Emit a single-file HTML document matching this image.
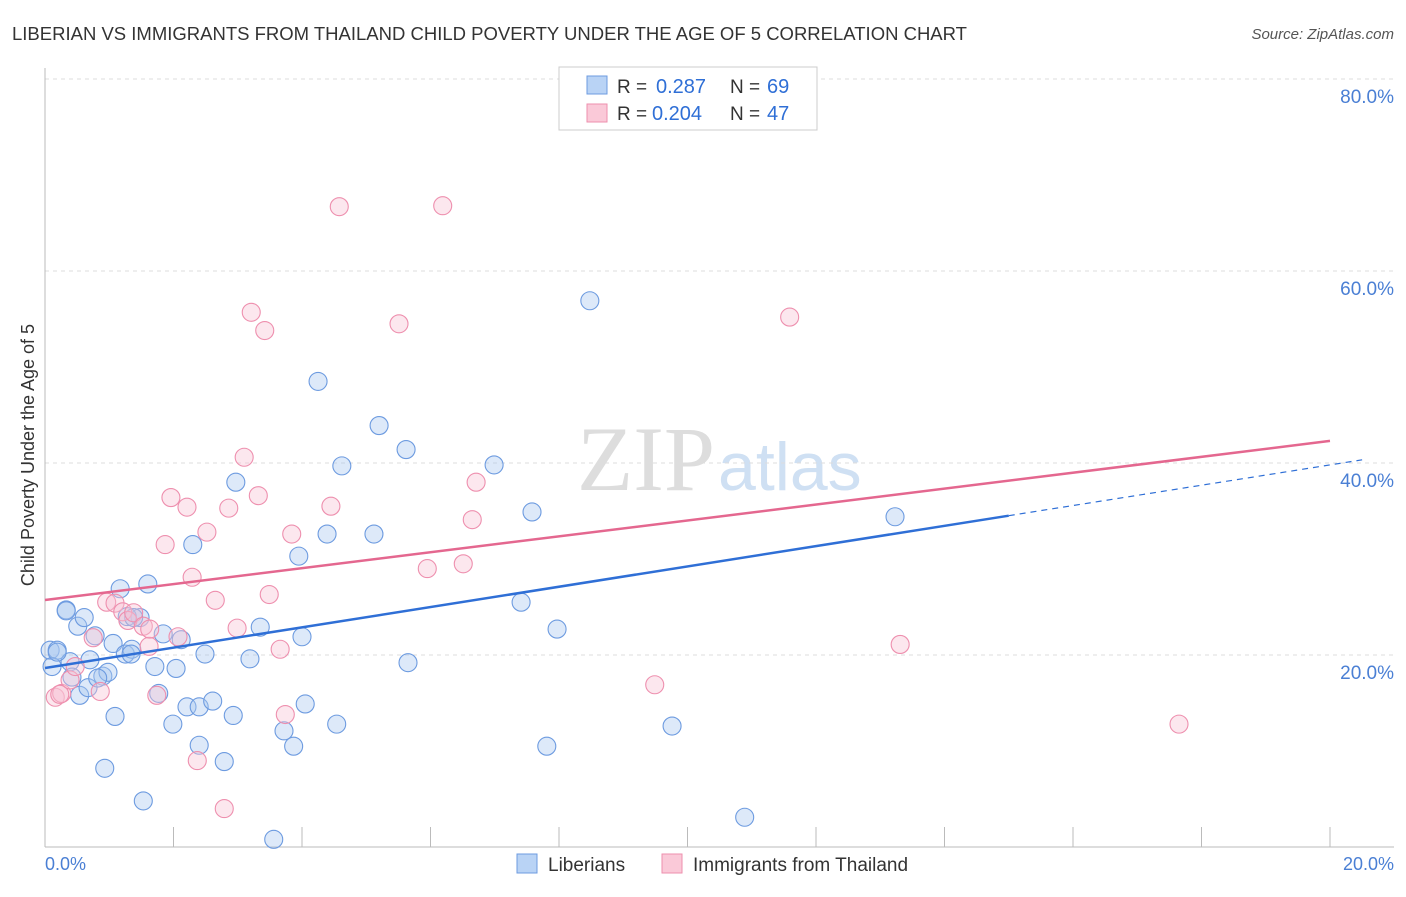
<!DOCTYPE html>
<html><head><meta charset="utf-8"><style>
body{margin:0;background:#fff;font-family:"Liberation Sans",sans-serif;}
</style></head><body>
<svg id="c" width="1406" height="892" xmlns="http://www.w3.org/2000/svg">
<text x="12" y="40" font-size="18.5" fill="#333">LIBERIAN VS IMMIGRANTS FROM THAILAND CHILD POVERTY UNDER THE AGE OF 5 CORRELATION CHART</text>
<text x="1394" y="39" font-size="15" fill="#555" font-style="italic" text-anchor="end">Source: ZipAtlas.com</text>
<text x="715" y="490" font-size="92" fill="#ddd" font-family="Liberation Serif,serif" text-anchor="end">ZIP</text>
<text x="718" y="490" font-size="68" fill="#cfe0f3">atlas</text>
<g id="grid"></g><g id="pts"></g><g id="lines"></g>
<text x="34" y="455" font-size="18" fill="#333" transform="rotate(-90 34 455)" text-anchor="middle">Child Poverty Under the Age of 5</text>
<text x="45" y="870" font-size="18" fill="#4a7fd4">0.0%</text>
<text x="1394" y="870" font-size="18" fill="#4a7fd4" text-anchor="end">20.0%</text>
<g>
<rect x="559" y="67" width="258" height="63" fill="#fff" stroke="#ccc"/>
<rect x="587" y="76" width="20" height="18" fill="#b9d3f5" stroke="#6d9be0"/>
<rect x="587" y="104" width="20" height="18" fill="#fac9d8" stroke="#ee8fae"/>
<text x="617" y="93" font-size="19" fill="#333">R =</text>
<text x="656" y="93" font-size="20" fill="#2f6fd6">0.287</text>
<text x="730" y="93" font-size="19" fill="#333">N =</text>
<text x="767" y="93" font-size="20" fill="#2f6fd6">69</text>
<text x="617" y="120" font-size="19" fill="#333">R =</text>
<text x="652" y="120" font-size="20" fill="#2f6fd6">0.204</text>
<text x="730" y="120" font-size="19" fill="#333">N =</text>
<text x="767" y="120" font-size="20" fill="#2f6fd6">47</text>
</g>
<g>
<rect x="517" y="854" width="20" height="19" fill="#b9d3f5" stroke="#6d9be0"/>
<text x="548" y="871" font-size="19" fill="#333">Liberians</text>
<rect x="662" y="854" width="20" height="19" fill="#fac9d8" stroke="#ee8fae"/>
<text x="693" y="871" font-size="19" fill="#333">Immigrants from Thailand</text>
</g>
</svg>
<script>
const blueX=[0.08,0.19,0.11,0.33,0.51,0.61,0.39,0.70,0.78,0.42,0.54,0.67,0.90,0.98,1.06,0.82,1.17,1.09,0.93,1.60,1.48,1.28,1.25,1.35,1.34,1.84,1.71,2.04,2.12,1.77,1.99,2.21,2.40,2.61,2.49,2.30,2.40,2.79,2.93,1.53,2.97,3.19,3.35,3.72,3.87,4.00,4.05,3.95,4.25,4.39,4.54,4.62,5.12,5.20,5.62,5.65,6.99,7.41,7.58,7.81,7.97,8.48,9.76,10.89,13.23,3.56,0.33,0.19,1.38];
const blueY=[20.5,20.5,18.8,24.7,23.0,23.9,19.3,19.5,22.0,17.7,15.8,16.6,17.8,18.2,21.2,17.6,26.9,13.6,8.2,27.4,23.9,24.0,20.1,20.6,20.1,22.2,18.8,18.6,21.6,16.0,12.8,14.6,14.6,15.2,20.1,31.5,10.6,8.9,13.7,4.8,38.0,19.6,22.9,12.1,10.5,21.9,14.9,30.3,48.5,32.6,12.8,39.7,32.6,43.9,41.4,19.2,39.8,25.5,34.9,10.5,22.7,56.9,12.6,3.1,34.4,0.8,24.6,20.3,23.9];
const pinkX=[0.16,0.26,0.39,0.47,0.75,0.86,0.96,1.09,1.21,1.29,1.38,1.53,1.62,1.74,1.87,1.96,2.07,2.21,2.29,2.37,2.52,2.65,2.79,2.86,2.99,3.10,3.21,3.32,3.42,3.49,3.66,3.74,3.84,4.45,4.58,5.51,5.95,6.19,6.65,6.71,6.51,9.49,11.59,13.31,17.65,1.63,0.23];
const pinkY=[15.6,16.0,17.4,18.8,21.8,16.2,25.5,25.4,24.5,23.6,24.4,23.0,20.9,15.8,31.5,36.4,21.9,35.4,28.1,9.0,32.8,25.7,4.0,35.3,22.8,40.6,55.7,36.6,53.8,26.3,20.6,13.8,32.6,35.5,66.7,54.5,29.0,66.8,34.1,38.0,29.5,16.9,55.2,21.1,12.8,22.7,15.9];
const blueFit=[18.65,39.8], pinkFit=[25.73,42.3];
const NS='http://www.w3.org/2000/svg';
const X=v=>45+v/20*1285, Y=v=>847-v/80*768;
function mk(t,a,p){const e=document.createElementNS(NS,t);for(const k in a)e.setAttribute(k,a[k]);p.appendChild(e);return e;}
const grid=document.getElementById('grid');
[20,40,60,80].forEach(v=>{
 const l=mk('line',{x1:45,x2:1394,y1:Y(v),y2:Y(v),stroke:'#ddd','stroke-dasharray':'4,4'},grid);
 
 
 const t=mk('text',{x:1394,y:Y(v)+24,'font-size':19,fill:'#4a7fd4','text-anchor':'end'},grid);
 t.textContent=v.toFixed(1)+'%';
 
 
});
mk('line',{x1:45,x2:45,y1:68,y2:847,stroke:'#bbb'},grid);
mk('line',{x1:45,x2:1394,y1:847,y2:847,stroke:'#bbb'},grid);
for(let i=1;i<=10;i++){mk('line',{x1:X(i*2),x2:X(i*2),y1:827,y2:847,stroke:'#bbb'},grid);}
const pts=document.getElementById('pts');
blueX.forEach((x,i)=>{const c=mk('circle',{cx:X(x),cy:Y(blueY[i]),r:9,fill:'rgba(170,200,240,0.4)',stroke:'#6d9be0','stroke-width':1.1},pts);
 
 });
pinkX.forEach((x,i)=>{const c=mk('circle',{cx:X(x),cy:Y(pinkY[i]),r:9,fill:'rgba(248,195,212,0.4)',stroke:'#ee8fae','stroke-width':1.1},pts);
 
 });
const lines=document.getElementById('lines');
const bf=x=>blueFit[0]+(blueFit[1]-blueFit[0])*x/20, pf=x=>pinkFit[0]+(pinkFit[1]-pinkFit[0])*x/20;
let l=mk('line',{x1:X(0),y1:Y(bf(0)),x2:X(15),y2:Y(bf(15)),stroke:'#2f6fd6','stroke-width':2.5},lines);


l=mk('line',{x1:X(15),y1:Y(bf(15)),x2:X(20.5),y2:Y(bf(20.5)),stroke:'#2f6fd6','stroke-width':1.2,'stroke-dasharray':'6,5'},lines);


l=mk('line',{x1:X(0),y1:Y(pf(0)),x2:X(20),y2:Y(pf(20)),stroke:'#e4678f','stroke-width':2.5},lines);


</script>
</body></html>
